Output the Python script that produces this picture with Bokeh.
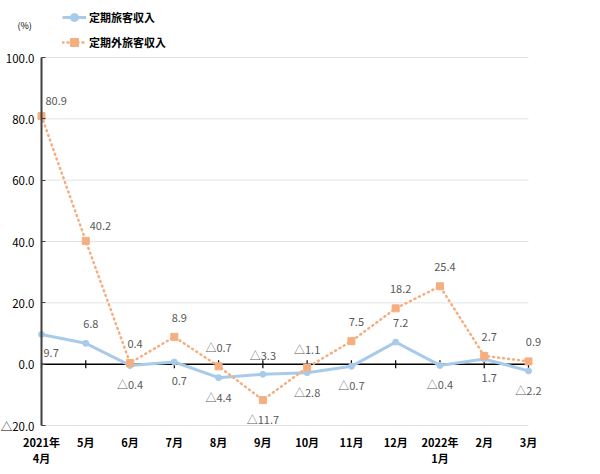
from bokeh.plotting import figure
from bokeh.models import (LinearAxis, FixedTicker, ColumnDataSource, Legend, LegendItem, LabelSet, Label,
                          Range1d)
from bokeh.core.properties import value
from bokeh.embed import file_html
from bokeh.resources import INLINE

# ---- data ----
months = ["2021年\n4月", "5月", "6月", "7月", "8月", "9月", "10月", "11月", "12月", "2022年\n1月", "2月", "3月"]
teiki = [9.7, 6.8, -0.4, 0.7, -4.4, -3.3, -2.8, -0.7, 7.2, -0.4, 1.7, -2.2]
teikigai = [80.9, 40.2, 0.4, 8.9, -0.7, -11.7, -1.1, 7.5, 18.2, 25.4, 2.7, 0.9]
y_ticks = [-20, 0, 20, 40, 60, 80, 100]
series_names = ["定期旅客収入", "定期外旅客収入"]
unit_label = "(%)"

# label placement (style only)
teiki_pos = ["belowright", "above", "below", "below", "below", "above", "below", "below", "above", "below", "below", "below"]
teikigai_pos = ["aboveright", "aboveright", "above", "above", "above", "below", "above", "above", "above", "above", "above", "above"]

BLUE = "#a9cbea"
ORANGE = "#f5ae80"
FONT = "Noto Sans CJK JP"

# ---- layout geometry (pixels) ----
W = 584
AX_X, PLOT_R = 41, 528         # pixel x of first / last category
TOP_Y, BOT_Y = 57, 425         # pixel y of the top / bottom tick
FRAME_H = 433                  # frame covers the canvas above the category labels
n = len(months)
px_per_x = (PLOT_R - AX_X) / (n - 1)
ymin, ymax = y_ticks[0], y_ticks[-1]
px_per_y = (BOT_Y - TOP_Y) / (ymax - ymin)
x_lo = -AX_X / px_per_x
x_hi = (n - 1) + (W - PLOT_R) / px_per_x
y_hi = ymax + TOP_Y / px_per_y
y_lo = ymin - (FRAME_H - BOT_Y) / px_per_y


def fmt(v):
    return ("△" if v < 0 else "") + f"{abs(v):.1f}"


idx = list(range(n))

p = figure(frame_width=W, frame_height=FRAME_H, output_backend="svg", toolbar_location=None,
           x_range=Range1d(x_lo, x_hi), y_range=Range1d(y_lo, y_hi),
           x_axis_location=None, y_axis_location=None,
           min_border_left=0, min_border_right=0, min_border_top=0, min_border_bottom=34)
p.outline_line_color = None
p.background_fill_color = "white"
p.xgrid.visible = False
p.ygrid.visible = False

# horizontal grid lines between first and last category
grid_vals = [t for t in y_ticks if t != 0]
p.segment(x0=[idx[0]] * len(grid_vals), x1=[idx[-1]] * len(grid_vals), y0=grid_vals, y1=grid_vals,
          line_color="#e3e3e3", line_width=1)

# y axis fixed at first category
yax = LinearAxis(ticker=FixedTicker(ticks=y_ticks), fixed_location=idx[0], bounds=(ymin, ymax))
yax.major_label_overrides = {t: fmt(t) for t in y_ticks}
yax.major_label_text_font = FONT
yax.major_label_text_font_size = "11.5px"
yax.major_label_text_color = "#000000"
yax.axis_line_color = "#404040"
yax.axis_line_width = 2
yax.major_tick_in = 4
yax.major_tick_out = 0
yax.major_tick_line_color = "#404040"
yax.minor_tick_line_color = None
yax.major_label_standoff = 7
p.add_layout(yax, "left")

# bottom category labels
xax = LinearAxis(ticker=FixedTicker(ticks=idx))
xax.major_label_overrides = {i: m for i, m in zip(idx, months)}
xax.major_label_text_font = FONT
xax.major_label_text_font_size = "11px"
xax.major_label_text_font_style = "bold"
xax.major_label_text_color = "#000000"
xax.major_label_text_line_height = 1.0
xax.axis_line_color = None
xax.major_tick_line_color = None
xax.major_tick_in = 0
xax.major_tick_out = 0
xax.minor_tick_line_color = None
xax.major_label_standoff = 0
p.add_layout(xax, "below")

# zero line with category ticks
p.segment(x0=[idx[0]], x1=[idx[-1]], y0=[0], y1=[0], line_color="#000000", line_width=1.5)
tick_h = 4 / px_per_y
p.segment(x0=idx, y0=[-tick_h] * n, x1=idx, y1=[tick_h] * n, line_color="#000000", line_width=1.2)

src = ColumnDataSource(dict(x=idx, a=teiki, b=teikigai))

l1 = p.line("x", "a", source=src, line_color=BLUE, line_width=3)
m1 = p.scatter("x", "a", source=src, marker="circle", size=6, fill_color=BLUE, line_color=BLUE)
l2 = p.line("x", "b", source=src, line_color=ORANGE, line_width=2.5, line_dash="1 4", line_cap="round")
m2 = p.scatter("x", "b", source=src, marker="square", size=7, fill_color=ORANGE, line_color=ORANGE)


def add_labels(vals, pos):
    xs, ys, txt, xo, yo, al = [], [], [], [], [], []
    for i, (v, ps) in enumerate(zip(vals, pos)):
        xs.append(i); ys.append(v); txt.append(fmt(v))
        shift = 0 if v < 0 else 5
        if ps == "above":
            yo.append(19); xo.append(shift); al.append("center")
        elif ps == "below":
            yo.append(-19); xo.append(shift); al.append("center")
        elif ps == "belowright":
            yo.append(-19); xo.append(2); al.append("left")
        else:
            yo.append(15); xo.append(4); al.append("left")
    s = ColumnDataSource(dict(x=xs, y=ys, t=txt, xo=xo, yo=yo, al=al))
    ls = LabelSet(x="x", y="y", text="t", source=s, x_offset="xo", y_offset="yo", text_align="al",
                  text_baseline="middle", text_font=value(FONT), text_font_size=value("11px"),
                  text_color=value("#595959"))
    p.add_layout(ls)


add_labels(teiki, teiki_pos)
add_labels(teikigai, teikigai_pos)

legend = Legend(items=[LegendItem(label=series_names[0], renderers=[l1, m1]),
                       LegendItem(label=series_names[1], renderers=[l2, m2])],
                location=(62, FRAME_H - 52), orientation="vertical")
legend.label_text_font = FONT
legend.label_text_font_size = "11px"
legend.label_text_font_style = "bold"
legend.label_text_color = "#000000"
legend.border_line_color = None
legend.background_fill_alpha = 0
legend.glyph_width = 24
legend.glyph_height = 20
legend.label_height = 20
legend.label_standoff = 3
legend.spacing = 5
legend.padding = 0
legend.margin = 0
p.add_layout(legend, "center")

p.add_layout(Label(x=idx[0] - (AX_X - 17) / px_per_x, y=ymax + (TOP_Y - 25) / px_per_y,
                   text=unit_label, text_baseline="middle",
                   text_font=FONT, text_font_size="9px", text_color="#000000"))

open("out.html", "w").write(file_html(p, INLINE))
